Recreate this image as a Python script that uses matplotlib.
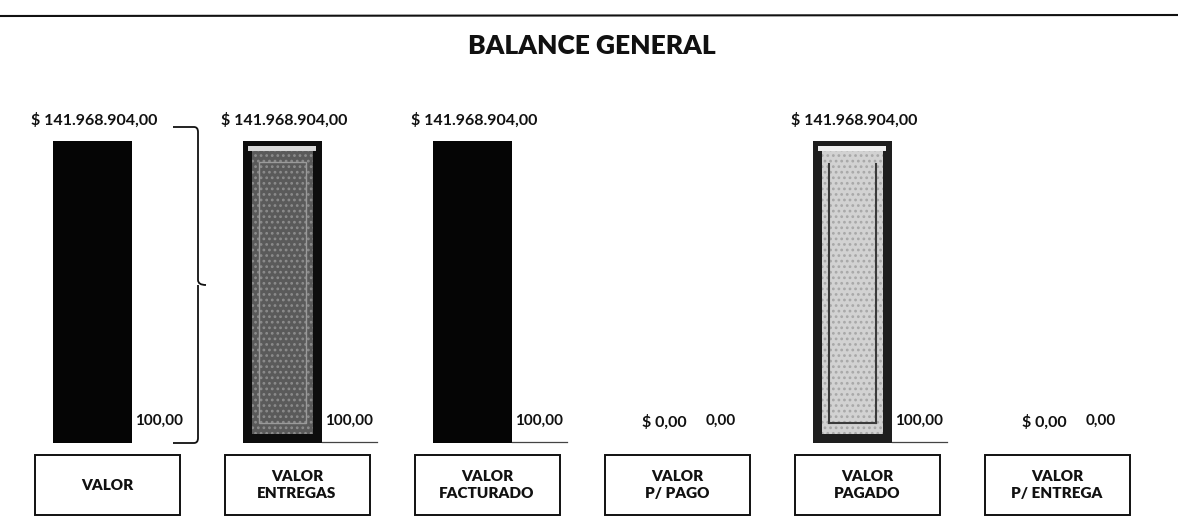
import matplotlib
matplotlib.use("Agg")
import matplotlib.pyplot as plt
from matplotlib.patches import Rectangle
from matplotlib.path import Path
from matplotlib.patches import PathPatch

plt.rcParams['font.family'] = ['Lato', 'DejaVu Sans']
plt.rcParams['hatch.linewidth'] = 1.2

# data
categories = ["VALOR", "VALOR\nENTREGAS", "VALOR\nFACTURADO", "VALOR\nP/ PAGO", "VALOR\nPAGADO", "VALOR\nP/ ENTREGA"]
valores    = [141968904.00, 141968904.00, 141968904.00, 0.00, 141968904.00, 0.00]
porcentaje = [100.00, 100.00, 100.00, 0.00, 100.00, 0.00]
value_lbls = ["$ 141.968.904,00", "$ 141.968.904,00", "$ 141.968.904,00", "$ 0,00", "$ 141.968.904,00", "$ 0,00"]
pct_lbls   = ["100,00", "100,00", "100,00", "0,00", "100,00", "0,00"]
title      = "BALANCE GENERAL"

W, H = 1178, 531
V = max(valores)

# pixel layout helpers (y pixels from the top)
X0, DX = 92.0, 190.0
Y0, YV = 443.0, 141.0
def xd(dpx):
    return dpx / DX
def yd(py):
    return (Y0 - py) / (Y0 - YV) * V

fig = plt.figure(figsize=(W/100, H/100), dpi=100)
ax = fig.add_axes([0, 0, 1, 1])
ax.set_xlim((0 - X0) / DX, (W - X0) / DX)
ax.set_ylim(yd(H), yd(0))
ax.axis('off')

bw = xd(79)
xs = list(range(len(categories)))

# bars
face = ['#050505', '#0d0d0d', '#050505', '#050505', '#1e1e1e', '#050505']
bars = ax.bar(xs, valores, width=bw, color=face, edgecolor='none', zorder=2)

# inner bevel look for the two textured bars
for i, inner, speck, top in [(1, '#5a5a5a', '#8c8c8c', '#d8d8d8'), (4, '#d2d2d2', '#a8a8a8', '#f0f0f0')]:
    v = valores[i]
    if v <= 0:
        continue
    ix = xd(9); iy = yd(Y0 - 9) - yd(Y0)
    ax.add_patch(Rectangle((i - bw/2 + ix, iy), bw - 2*ix, v - 2*iy,
                           facecolor=inner, edgecolor=speck, lw=0, hatch='...', zorder=3))
    ax.add_patch(Rectangle((i - bw/2 + ix*0.6, v - iy*1.1), bw - 1.2*ix, iy*0.6,
                           facecolor=top, edgecolor='none', zorder=3))
    if i == 4:
        for dx in (xd(16), bw - xd(16)):
            ax.plot([i - bw/2 + dx]*2, [iy*2.2, v - iy*2.5], color='#3a3a3a', lw=1.5, zorder=4)
        ax.plot([i - bw/2 + xd(16), i + bw/2 - xd(16)], [iy*2.2]*2, color='#3a3a3a', lw=1.5, zorder=4)
    else:
        ax.add_patch(Rectangle((i - bw/2 + xd(16), iy*2.2), bw - 2*xd(16), v - iy*4.5,
                               facecolor='none', edgecolor='#9a9a9a', lw=1, zorder=4))

# value labels above bars, percentage labels to the right at the bottom
for i, v in enumerate(valores):
    ax.text(i + xd(2), v + (yd(Y0 - 21) - yd(Y0)), value_lbls[i], ha='center', va='center',
            fontsize=11.5, fontweight='bold', color='#111111', zorder=5)
    ax.text(i + bw/2 + xd(4), yd(421), pct_lbls[i], ha='left', va='center',
            fontsize=11, fontweight='bold', color='#111111', zorder=5)
    if i in (1, 2, 4):
        ax.plot([i + bw/2, i + bw/2 + xd(55)], [yd(Y0 - 1)]*2, color='#444444', lw=0.9)

# category boxes
for i, c in enumerate(categories):
    cx = i + xd(15)
    ax.add_patch(Rectangle((cx - xd(72), yd(515)), xd(145), yd(455) - yd(515),
                           facecolor='white', edgecolor='#111111', lw=1.4, zorder=2))
    ax.text(cx, (yd(455) + yd(515)) / 2, c, ha='center', va='center', fontsize=11,
            fontweight='heavy', color='#111111', linespacing=1.3, zorder=3)

# brace beside the first bar
bx = xd(198 - X0)
top, bot, mid = yd(127), yd(443), yd(285)
r = yd(Y0 - 5) - yd(Y0)
verts = [(xd(173 - X0), top), (bx - xd(4), top), (bx, top), (bx, top - r),
         (bx, mid + r), (bx, mid), (bx + xd(8), mid),
         (bx, mid), (bx, mid - r), (bx, bot + r), (bx, bot), (bx - xd(4), bot),
         (xd(173 - X0), bot)]
codes = [Path.MOVETO, Path.LINETO, Path.CURVE3, Path.CURVE3, Path.LINETO, Path.CURVE3, Path.CURVE3,
         Path.MOVETO, Path.LINETO, Path.LINETO, Path.CURVE3, Path.CURVE3, Path.LINETO]
ax.add_patch(PathPatch(Path(verts, codes), facecolor='none', edgecolor='#111111', lw=1.3, zorder=3))

# title and the rule on top
ax.text(xd(592 - X0), yd(46), title, ha='center', va='center', fontsize=19,
        fontweight='heavy', color='#111111')
ax.plot([xd(-X0), xd(W - X0)], [yd(16), yd(15)], color='#111111', lw=1.5)

fig.savefig("out.png", dpi=100, facecolor='white')
